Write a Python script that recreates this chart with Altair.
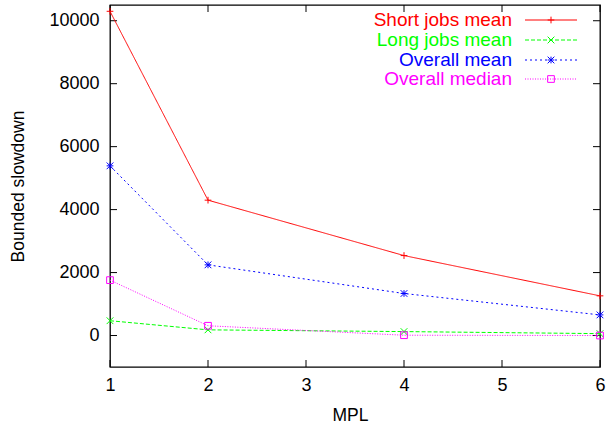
import altair as alt
import pandas as pd

# ---- data ----
mpl = [1, 2, 4, 6]
short_mean = [10300, 4300, 2540, 1260]
long_mean = [470, 180, 125, 60]
overall_mean = [5390, 2245, 1335, 655]
overall_median = [1760, 310, 10, 0]

series_names = ["Short jobs mean", "Long jobs mean", "Overall mean", "Overall median"]
series_values = [short_mean, long_mean, overall_mean, overall_median]
colors = ["#ff0000", "#00ff00", "#0000ff", "#ff00ff"]
dashes = [[1, 0], [4, 2], [2, 3], [1, 1.5]]
shapes = [
    "M-1,0L1,0M0,-1L0,1",
    "M-1,-1L1,1M-1,1L1,-1",
    "M-1,0L1,0M0,-1L0,1M-1,-1L1,1M-1,1L1,-1",
    "square",
]

x_ticks = [1, 2, 3, 4, 5, 6]
y_ticks = [0, 2000, 4000, 6000, 8000, 10000]

W, H = 490, 362
FONT = "Liberation Sans"

rows = []
for name, vals in zip(series_names, series_values):
    for m, v in zip(mpl, vals):
        rows.append({"series": name, "mpl": m, "value": v})
df = pd.DataFrame(rows)
legend_df = pd.DataFrame({"series": series_names})

xscale = alt.Scale(domain=[1, 6], nice=False, zero=False)
yscale = alt.Scale(domain=[-1000, 10500], nice=False, zero=False)

base = alt.Chart(df)

layers = []
# axes (labels + titles only)
axes = base.mark_point(opacity=0).encode(
    x=alt.X("mpl:Q", scale=xscale, axis=alt.Axis(
        values=x_ticks, format="d", title="MPL", grid=False, ticks=False, domain=False,
        labelFlush=False, labelOverlap=False,
        labelFontSize=18, labelFont=FONT, labelColor="black", labelPadding=9,
        titleFontSize=17.5, titleFont=FONT, titleFontWeight="normal", titleColor="black",
        titleX=W / 2 - 5, titleY=48, titleBaseline="middle", titleAlign="center")),
    y=alt.Y("value:Q", scale=yscale, axis=alt.Axis(
        values=y_ticks, format="d", title="Bounded slowdown", grid=False, ticks=False,
        domain=False, labelFlush=False, labelOverlap=False,
        labelFontSize=18, labelFont=FONT, labelColor="black", labelPadding=11,
        titleFontSize=17.5, titleFont=FONT, titleFontWeight="normal", titleColor="black",
        titleX=-92, titleY=H / 2, titleBaseline="middle", titleAlign="center",
        titleAngle=270)),
)
layers.append(axes)

# inward ticks
xt = pd.DataFrame({"t": x_ticks})
yt = pd.DataFrame({"t": y_ticks})
for y1, y2 in [(H - 7, H), (0, 7)]:
    layers.append(alt.Chart(xt).mark_rule(color="black", strokeWidth=1).encode(
        x=alt.X("t:Q", scale=xscale), y=alt.value(y1), y2=alt.value(y2)))
for x1, x2 in [(0, 7), (W - 7, W)]:
    layers.append(alt.Chart(yt).mark_rule(color="black", strokeWidth=1).encode(
        y=alt.Y("t:Q", scale=yscale), x=alt.value(x1), x2=alt.value(x2)))

# series
for name, col, dash, shp in zip(series_names, colors, dashes, shapes):
    sub = base.transform_filter(alt.datum.series == name)
    layers.append(sub.mark_line(color=col, strokeWidth=1, strokeDash=dash).encode(
        x=alt.X("mpl:Q", scale=xscale), y=alt.Y("value:Q", scale=yscale)))
    layers.append(sub.mark_point(color=col, shape=shp, filled=False, size=45, strokeWidth=1,
                                 opacity=1).encode(
        x=alt.X("mpl:Q", scale=xscale), y=alt.Y("value:Q", scale=yscale)))

# legend (top right, inside)
legend_y = [15, 35, 55, 74]
for name, col, dash, shp, ly in zip(series_names, colors, dashes, shapes, legend_y):
    lsub = alt.Chart(legend_df).transform_filter(alt.datum.series == name)
    layers.append(lsub.mark_text(align="right", baseline="middle", fontSize=19,
                                 font=FONT, color=col).encode(
        x=alt.value(402), y=alt.value(ly), text="series:N"))
    layers.append(lsub.mark_rule(color=col, strokeWidth=1, strokeDash=dash).encode(
        x=alt.value(415), x2=alt.value(467), y=alt.value(ly)))
    layers.append(lsub.mark_point(color=col, shape=shp, filled=False, size=45,
                                  strokeWidth=1, opacity=1).encode(
        x=alt.value(441), y=alt.value(ly)))

chart = alt.layer(*layers).properties(
    width=W, height=H,
    autosize=alt.AutoSizeParams(type="none"),
    padding={"left": 110, "top": 5, "right": 7, "bottom": 62},
    background="white",
).configure_view(stroke="black", strokeWidth=1.3)

chart.save("out.html", embed_options={"renderer": "svg", "actions": False})
